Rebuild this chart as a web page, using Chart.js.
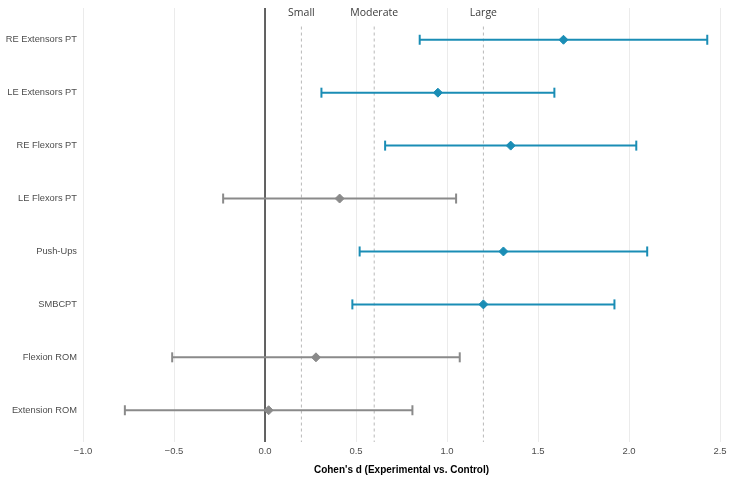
<!DOCTYPE html>
<html>
<head>
<meta charset="utf-8">
<script src="https://cdn.jsdelivr.net/npm/chart.js@4/dist/chart.umd.min.js"></script>
<style>
  html, body { margin: 0; padding: 0; background: #fff; }
  #wrap { width: 734px; height: 483px; }
</style>
</head>
<body>
<div id="wrap"><canvas id="forest"></canvas></div>
<script>
// outcomes, top to bottom
const outcomes = ['RE Extensors PT', 'LE Extensors PT', 'RE Flexors PT', 'LE Flexors PT',
                  'Push-Ups', 'SMBCPT', 'Flexion ROM', 'Extension ROM'];
const effectD = [1.64, 0.95, 1.35, 0.41, 1.31, 1.20, 0.28, 0.02];
const ciLower = [0.85, 0.31, 0.66, -0.23, 0.52, 0.48, -0.51, -0.77];
const ciUpper = [2.43, 1.59, 2.04, 1.05, 2.10, 1.92, 1.07, 0.81];
const significant = [true, true, true, false, true, true, false, false];

const xTicks = [-1.0, -0.5, 0.0, 0.5, 1.0, 1.5, 2.0, 2.5];
const refValues = [0.2, 0.6, 1.2];
const refLabels = ['Small', 'Moderate', 'Large'];

const TEAL = '#1a8db5';
const GREY = '#8a8a8a';
const colorOf = (i) => significant[i] ? TEAL : GREY;

const datasets = [];

// point estimates (on top)
datasets.push({
    type: 'scatter',
    order: 0,
    data: effectD.map((d, i) => ({ x: d, y: i })),
    pointStyle: 'rectRot',
    pointRadius: 4.5,
    pointBorderWidth: 1,
    backgroundColor: effectD.map((d, i) => colorOf(i)),
    borderColor: effectD.map((d, i) => colorOf(i)),
});

// confidence intervals with end caps
outcomes.forEach((name, i) => {
    datasets.push({
        type: 'line',
        order: 5,
        data: [{ x: ciLower[i], y: i }, { x: ciUpper[i], y: i }],
        borderColor: colorOf(i),
        borderWidth: 2,
        pointStyle: 'line',
        rotation: 90,
        pointRadius: 5,
        pointBorderWidth: 2,
        pointBorderColor: colorOf(i),
        fill: false,
    });
});

// zero line
datasets.push({
    type: 'line',
    order: 8,
    data: [{ x: 0, y: -0.6 }, { x: 0, y: 7.6 }],
    borderColor: '#333333',
    borderWidth: 1.5,
    pointRadius: 0,
});

// benchmark lines
refValues.forEach((v) => {
    datasets.push({
        type: 'line',
        order: 10,
        data: [{ x: v, y: -0.25 }, { x: v, y: 7.6 }],
        borderColor: '#b8b8b8',
        borderWidth: 1,
        borderDash: [3, 3],
        pointRadius: 0,
    });
});

const refLabelPlugin = {
    id: 'refLabels',
    afterDatasetsDraw(chart) {
        const { ctx, chartArea, scales } = chart;
        ctx.save();
        ctx.font = '10.5px "Open Sans"';
        ctx.fillStyle = '#3a3a3a';
        ctx.textAlign = 'center';
        ctx.textBaseline = 'middle';
        refValues.forEach((v, i) => {
            ctx.fillText(refLabels[i], scales.x.getPixelForValue(v), chartArea.top + 5);
        });
        ctx.restore();
    }
};

new Chart(document.getElementById('forest'), {
    type: 'scatter',
    data: { datasets },
    plugins: [refLabelPlugin],
    options: {
        responsive: true,
        maintainAspectRatio: false,
        animation: false,
        events: [],
        layout: { padding: { top: 8, right: 14, left: 0, bottom: 0 } },
        plugins: { legend: { display: false }, tooltip: { enabled: false } },
        scales: {
            x: {
                type: 'linear',
                min: -1.0,
                max: 2.5,
                afterBuildTicks: (scale) => { scale.ticks = xTicks.map((v) => ({ value: v })); },
                afterFit: (scale) => { scale.height = 41; },
                border: { display: false },
                grid: { color: '#ebebeb', lineWidth: 1, drawTicks: false },
                ticks: {
                    padding: 4,
                    color: '#4d4d4d',
                    font: { family: '"Liberation Sans", Arial', size: 9.5 },
                    callback: (v) => Number(v).toFixed(1).replace('-', '\u2212'),
                },
                title: {
                    display: true,
                    text: "Cohen's d (Experimental vs. Control)",
                    color: '#000',
                    font: { family: '"Liberation Sans", Arial', size: 10, weight: 'bold' },
                    padding: { top: 0, bottom: 7 },
                },
            },
            y: {
                type: 'linear',
                reverse: true,
                min: -0.6,
                max: 7.6,
                afterBuildTicks: (scale) => { scale.ticks = outcomes.map((o, i) => ({ value: i })); },
                afterFit: (scale) => {
                    scale.width = 83;
                    scale.paddingTop = 0;
                    scale.paddingBottom = 0;
                },
                border: { display: false },
                grid: { display: false, drawTicks: false },
                ticks: {
                    padding: 6,
                    color: '#4d4d4d',
                    font: { family: '"Liberation Sans", Arial', size: 9.3 },
                    callback: (v) => outcomes[v],
                },
            },
        },
    },
});
</script>
</body>
</html>
